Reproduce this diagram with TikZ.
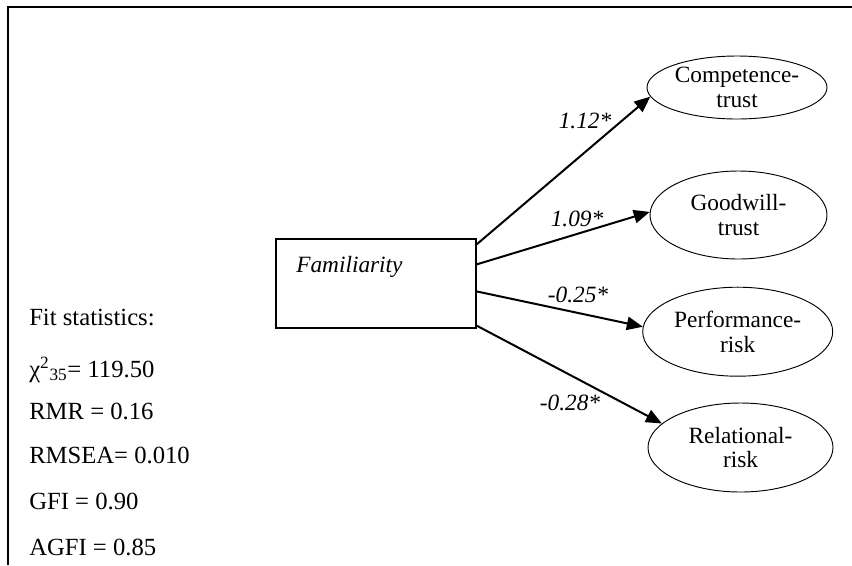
\documentclass[tikz,border=0pt]{standalone}
\usepackage{fontspec}
\setmainfont{Liberation Serif}
\usetikzlibrary{arrows.meta,shapes.geometric,calc}

\begin{document}
\begin{tikzpicture}[x=0.75pt,y=-0.75pt,
        latent/.style={draw, ellipse, line width=0.7pt, inner sep=0pt, align=center, font=\fontsize{17.5}{18.5}\selectfont},
        coef/.style={font=\fontsize{17.5}{20}\selectfont\itshape},
        fitline/.style={anchor=base west, inner sep=0pt, font=\fontsize{18.5}{20}\selectfont},
        effect/.style={line width=1.5pt, -{Triangle[length=12pt, width=10pt]}}]
        \useasboundingbox (0,0) rectangle (852,565);
        \draw[line width=1.4pt] (8,565) -- (8,7) -- (852,7);
        \node[draw, line width=0.9pt, minimum width=150pt, minimum height=66.75pt, inner sep=0pt] (fam) at (376,283.5) {};
        \node[anchor=base west, font=\fontsize{17.5}{20}\selectfont\itshape, inner sep=0pt] (famtext) at (296,272) {Familiarity};
        \node[latent, minimum width=135pt, minimum height=47.25pt] (ct) at (737,87.5) {Competence-\\trust};
        \node[latent, minimum width=132.75pt, minimum height=66pt] (gt) at (738.5,215) {Goodwill-\\trust};
        \node[latent, minimum width=142.5pt, minimum height=66.75pt] (pr) at (737.7,331.7) {Performance-\\risk};
        \node[latent, minimum width=138.75pt, minimum height=66.75pt] (rr) at (740.5,447.5) {Relational-\\risk};
        \draw[effect] ($(fam.north east)+(0,6)$) -- (ct.186);
        \draw[effect] ($(fam.north east)+(0,26)$) -- (gt.178);
        \draw[effect] ($(fam.north east)+(0,53)$) -- (pr.177);
        \draw[effect] ($(fam.south east)+(0,-3)$) -- (rr.163.5);
        \node[coef] (c1) at (585,121) {1.12*};
        \node[coef] (c2) at (577,219) {1.09*};
        \node[coef] (c3) at (578,295) {-0.25*};
        \node[coef] (c4) at (570,403) {-0.28*};
        \node[fitline] (f1) at (29,325) {Fit statistics:};
        \node[fitline] (f2) at (29,377) {χ\textsuperscript{2}\textsubscript{35}= 119.50};
        \node[fitline] (f3) at (29,419) {RMR = 0.16};
        \node[fitline] (f4) at (29,463) {RMSEA= 0.010};
        \node[fitline] (f5) at (29,509) {GFI = 0.90};
        \node[fitline] (f6) at (29,555) {AGFI = 0.85};
    \end{tikzpicture}
\end{document}
